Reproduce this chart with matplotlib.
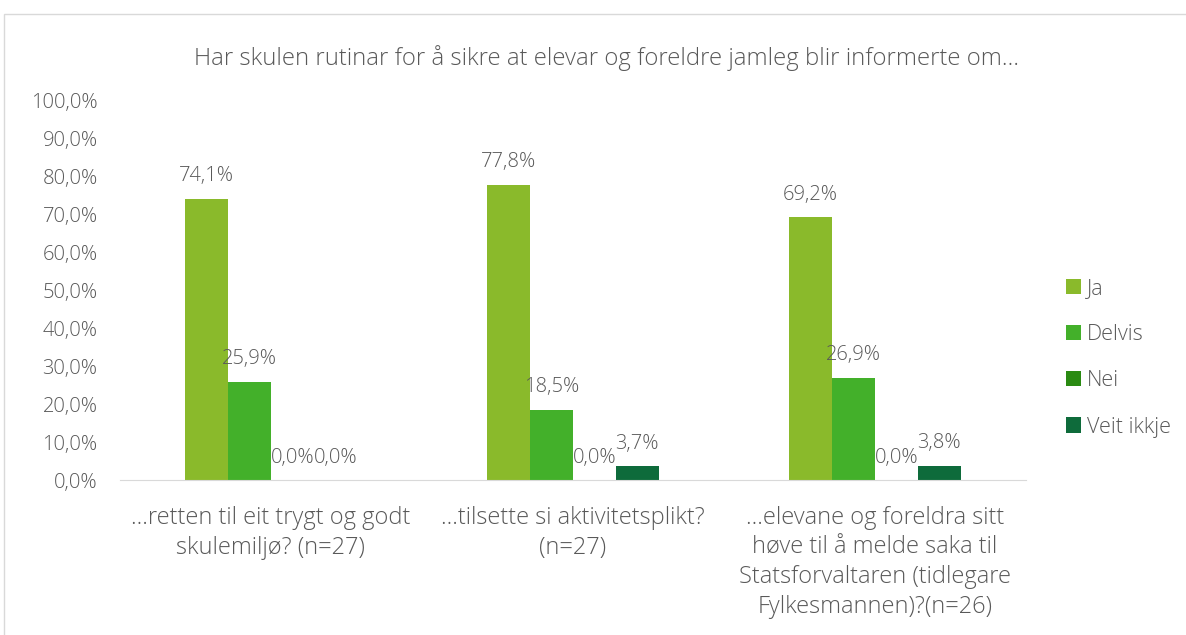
import matplotlib as mpl
mpl.use('agg')
import matplotlib.pyplot as plt
import numpy as np

categories = ["…retten til eit trygt og godt\nskulemiljø? (n=27)",
              "…tilsette si aktivitetsplikt?\n(n=27)",
              "…elevane og foreldra sitt\nhøve til å melde saka til\nStatsforvaltaren (tidlegare\nFylkesmannen)?(n=26)"]
series = ["Ja", "Delvis", "Nei", "Veit ikkje"]
ja = [74.1, 77.8, 69.2]
delvis = [25.9, 18.5, 26.9]
nei = [0.0, 0.0, 0.0]
veit_ikkje = [0.0, 3.7, 3.8]
colors = ["#8aba2b", "#43b02a", "#2a8a12", "#0e6b3b"]

plt.rcParams['font.family'] = ['Open Sans', 'DejaVu Sans']
txt = '#595959'

fig = plt.figure(figsize=(11.86, 6.35), dpi=100)
ax = fig.add_axes([0.101, 0.244, 0.764, 0.598])

x = np.arange(len(categories))
w = 0.1424
for i, (name, vals) in enumerate(zip(series, [ja, delvis, nei, veit_ikkje])):
    pos = x + (i - 1.5) * w
    ax.bar(pos, vals, width=w, color=colors[i], label=name)
    for p, v in zip(pos, vals):
        ax.annotate(f"{v:.1f}%".replace('.', ','), (p, v), xytext=(0, 9),
                    textcoords='offset points', ha='center', va='bottom',
                    fontsize=14.5, color=txt, fontweight='light')

ax.set_xlim(-0.5, 2.5)
ax.set_ylim(0, 100)
ax.set_yticks(np.arange(0, 101, 10))
ax.set_yticklabels([f"{v:.1f}%".replace('.', ',') for v in np.arange(0, 101, 10)],
                   fontweight='light')
ax.set_xticks(x)
ax.set_xticklabels(categories, linespacing=1.3, fontsize=17, fontweight='light')
ax.tick_params(axis='y', length=0, labelsize=14.5, colors=txt, pad=16)
ax.tick_params(axis='x', length=0, colors=txt, pad=19)
for s in ['top', 'right', 'left']:
    ax.spines[s].set_visible(False)
ax.spines['bottom'].set_color('#d9d9d9')

fig.text(0.511, 1 - 58 / 635,
         "Har skulen rutinar for å sikre at elevar og foreldre jamleg blir informerte om…",
         fontsize=17.2, color=txt, ha='center', va='center', fontweight='light')

ax.legend(loc='center left', bbox_to_anchor=(1.044, 0.322), frameon=False,
          labelcolor=txt, handlelength=0.7, handleheight=0.7,
          handletextpad=0.3, labelspacing=1.17, borderaxespad=0, borderpad=0,
          prop={'weight': 'light', 'size': 15.5})

fig.patches.append(plt.Rectangle((4 / 1186, -0.1), 1.2, 1 - 14 / 635 + 0.1,
                                 transform=fig.transFigure, fill=False,
                                 edgecolor='#d9d9d9', linewidth=1))

plt.savefig("out.png")
